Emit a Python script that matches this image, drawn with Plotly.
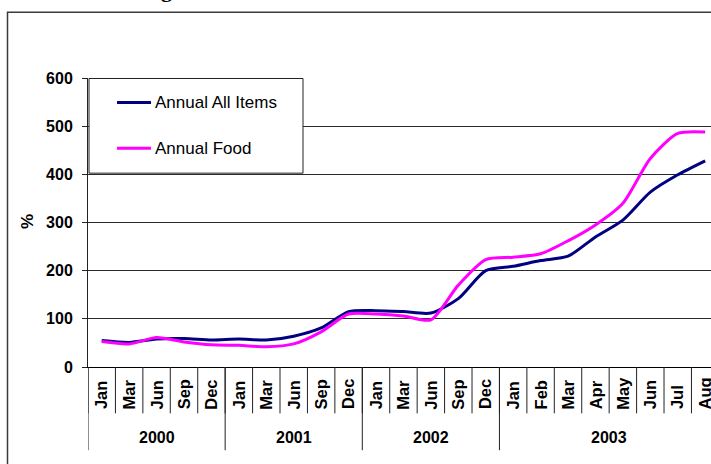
import plotly.graph_objects as go

# ---- data ----
years = ["2000", "2001", "2002", "2003"]
months_by_year = [
    ["Jan", "Mar", "Jun", "Sep", "Dec"],
    ["Jan", "Mar", "Jun", "Sep", "Dec"],
    ["Jan", "Mar", "Jun", "Sep", "Dec"],
    ["Jan", "Feb", "Mar", "Apr", "May", "Jun", "Jul", "Aug"],
]
series_names = ["Annual All Items", "Annual Food"]
all_items = [55, 51, 58, 59, 56,
             58, 56, 64, 81, 115,
             117, 115, 112, 142, 200,
             209, 221, 230, 270, 305, 363, 399, 428]
food = [53, 48, 61, 52, 46,
        45, 42, 48, 73, 110,
        110, 106, 98, 170, 223,
        228, 235, 262, 295, 340, 433, 485, 488]
y_ticks = [0, 100, 200, 300, 400, 500, 600]

colors = ["#000080", "#FF00FF"]
FONT = "Liberation Sans, Arial, sans-serif"

# flatten categories
month_labels = [m for ms in months_by_year for m in ms]
n = len(month_labels)
xs = list(range(n))

fig = go.Figure()
for name, vals, col in zip(series_names, [all_items, food], colors):
    fig.add_trace(go.Scatter(
        x=xs, y=vals, name=name, mode="lines",
        line=dict(color=col, width=3, shape="spline", smoothing=0.7),
        showlegend=False, hoverinfo="skip",
    ))

# pixel geometry helpers
W, H = 711, 464
L, T, B = 88, 77.5, 367.5
plot_w = W - L
plot_h = B - T
cat_w = 27.43
x_max = (W - L) / cat_w - 0.5


def px_x(p):
    return (p - L) / plot_w


def px_y(p):
    return (B - p) / plot_h


shapes = []
annotations = []

# outer chart border
shapes.append(dict(type="rect", xref="paper", yref="paper",
                   x0=px_x(7.5), x1=1.05, y0=px_y(480), y1=px_y(11.5),
                   line=dict(color="#3a3a3a", width=1.5), layer="above"))

# category separators & month labels
for k in range(n + 1):
    shapes.append(dict(type="line", xref="x", yref="paper",
                       x0=k - 0.5, x1=k - 0.5, y0=0, y1=px_y(414),
                       line=dict(color="#222", width=1)))
for i, m in enumerate(month_labels):
    annotations.append(dict(x=i, y=px_y(412), xref="x", yref="paper",
                            text=m, textangle=-90, showarrow=False,
                            xanchor="center", yanchor="bottom",
                            font=dict(family=FONT, size=16.5, color="black", weight="bold")))

# year separators & labels
start = 0
for yr, ms in zip(years, months_by_year):
    shapes.append(dict(type="line", xref="x", yref="paper",
                       x0=start - 0.5, x1=start - 0.5, y0=0, y1=px_y(451),
                       line=dict(color="#222", width=1)))
    annotations.append(dict(x=start + (len(ms) - 1) / 2, y=px_y(438),
                            xref="x", yref="paper", text=yr, showarrow=False,
                            xanchor="center", yanchor="middle",
                            font=dict(family=FONT, size=16, color="black", weight="bold")))
    start += len(ms)

# legend box
shapes.append(dict(type="rect", xref="paper", yref="paper",
                   x0=px_x(89), x1=px_x(303), y0=px_y(173), y1=px_y(78),
                   fillcolor="white", line=dict(color="#222", width=1), layer="above"))
for j, (name, col) in enumerate(zip(series_names, colors)):
    yy = 102 + j * 46
    shapes.append(dict(type="line", xref="paper", yref="paper",
                       x0=px_x(117), x1=px_x(151), y0=px_y(yy), y1=px_y(yy),
                       line=dict(color=col, width=3), layer="above"))
    annotations.append(dict(x=px_x(153), y=px_y(yy), xref="paper", yref="paper",
                            text=name, showarrow=False, xanchor="left", yanchor="middle",
                            font=dict(family=FONT, size=17, color="black")))

# y-axis title
annotations.append(dict(x=px_x(27), y=px_y(222), xref="paper", yref="paper",
                        text="%", textangle=-90, showarrow=False,
                        xanchor="center", yanchor="middle",
                        font=dict(family=FONT, size=17, color="black", weight="bold")))

# cut-off title remnant at top edge
annotations.append(dict(x=px_x(166), y=px_y(3.5), xref="paper", yref="paper",
                        text="g", showarrow=False, xanchor="center", yanchor="bottom",
                        font=dict(family="Liberation Serif, Times New Roman, serif",
                                  size=22, color="black", weight="bold")))

fig.update_layout(
    width=W, height=H,
    margin=dict(l=L, r=0, t=T, b=H - B, pad=0),
    plot_bgcolor="white", paper_bgcolor="white",
    shapes=shapes, annotations=annotations,
    xaxis=dict(range=[-0.5, x_max], showticklabels=False, showgrid=False,
               zeroline=False, showline=True, linecolor="black", linewidth=1,
               ticks=""),
    yaxis=dict(range=[0, 600], tickvals=y_ticks, showgrid=True,
               gridcolor="#2a2a2a", gridwidth=1, zeroline=False,
               showline=True, linecolor="#222", linewidth=1,
               ticks="outside", ticklen=5, tickcolor="#222",
               ticklabelstandoff=6,
               tickfont=dict(family=FONT, size=16, color="black", weight="bold")),
    showlegend=False,
)

fig.write_html("out.html")
